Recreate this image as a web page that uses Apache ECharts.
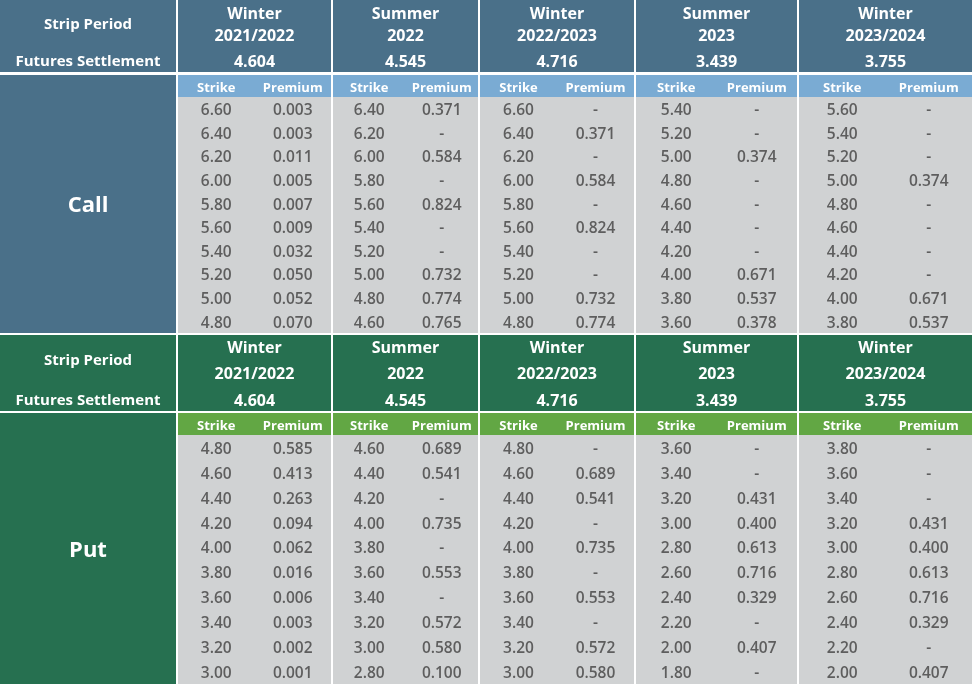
<!DOCTYPE html>
<html>
<head>
<meta charset="utf-8">
<script src="https://cdn.jsdelivr.net/npm/echarts@6/dist/echarts.min.js"></script>
<style>
  html, body { margin: 0; padding: 0; background: #fff; }
  #chart { width: 975px; height: 686px; }
</style>
</head>
<body>
<div id="chart"></div>
<script>
// ---- data ----
var seasons = ['Winter', 'Summer', 'Winter', 'Summer', 'Winter']
var years = ['2021/2022', '2022', '2022/2023', '2023', '2023/2024']
var settlements = ['4.604', '4.545', '4.716', '3.439', '3.755']

var callStrikes = [
    ['6.60', '6.40', '6.20', '6.00', '5.80', '5.60', '5.40', '5.20', '5.00', '4.80'],
    ['6.40', '6.20', '6.00', '5.80', '5.60', '5.40', '5.20', '5.00', '4.80', '4.60'],
    ['6.60', '6.40', '6.20', '6.00', '5.80', '5.60', '5.40', '5.20', '5.00', '4.80'],
    ['5.40', '5.20', '5.00', '4.80', '4.60', '4.40', '4.20', '4.00', '3.80', '3.60'],
    ['5.60', '5.40', '5.20', '5.00', '4.80', '4.60', '4.40', '4.20', '4.00', '3.80']
]
var callPremiums = [
    ['0.003', '0.003', '0.011', '0.005', '0.007', '0.009', '0.032', '0.050', '0.052', '0.070'],
    ['0.371', '-', '0.584', '-', '0.824', '-', '-', '0.732', '0.774', '0.765'],
    ['-', '0.371', '-', '0.584', '-', '0.824', '-', '-', '0.732', '0.774'],
    ['-', '-', '0.374', '-', '-', '-', '-', '0.671', '0.537', '0.378'],
    ['-', '-', '-', '0.374', '-', '-', '-', '-', '0.671', '0.537']
]
var putStrikes = [
    ['4.80', '4.60', '4.40', '4.20', '4.00', '3.80', '3.60', '3.40', '3.20', '3.00'],
    ['4.60', '4.40', '4.20', '4.00', '3.80', '3.60', '3.40', '3.20', '3.00', '2.80'],
    ['4.80', '4.60', '4.40', '4.20', '4.00', '3.80', '3.60', '3.40', '3.20', '3.00'],
    ['3.60', '3.40', '3.20', '3.00', '2.80', '2.60', '2.40', '2.20', '2.00', '1.80'],
    ['3.80', '3.60', '3.40', '3.20', '3.00', '2.80', '2.60', '2.40', '2.20', '2.00']
]
var putPremiums = [
    ['0.585', '0.413', '0.263', '0.094', '0.062', '0.016', '0.006', '0.003', '0.002', '0.001'],
    ['0.689', '0.541', '-', '0.735', '-', '0.553', '-', '0.572', '0.580', '0.100'],
    ['-', '0.689', '0.541', '-', '0.735', '-', '0.553', '-', '0.572', '0.580'],
    ['-', '-', '0.431', '0.400', '0.613', '0.716', '0.329', '-', '0.407', '-'],
    ['-', '-', '-', '0.431', '0.400', '0.613', '0.716', '0.329', '-', '0.407']
]

// ---- layout ----
var W = 975, H = 686
var labelRight = 176
var colLeft = [178, 333, 480, 636, 799]
var colRight = [331, 478, 634, 797, 972]
var FONT = '"Open Sans", Lato, sans-serif'
var dataColor = '#5e5e5e'
var grey = '#d0d2d3'
var dy = 2 // text baseline nudge

var sections = [
    { name: 'Call', strikes: callStrikes, premiums: callPremiums, dark: '#4a7089', light: '#7aabd3',
      top: 0, headBottom: 72, subTop: 75, subBottom: 97, bottom: 333,
      seasonY: 12, yearY: 34, valueY: 60, stripY: 23 },
    { name: 'Put', strikes: putStrikes, premiums: putPremiums, dark: '#267050', light: '#62a744',
      top: 335, headBottom: 411, subTop: 413, subBottom: 435, bottom: 684,
      seasonY: 346, yearY: 372, valueY: 399, stripY: 359 }
]

function txt(t, x, y, size, weight, color) {
    return { t: t, x: x, y: y + dy, size: size, weight: weight, color: color || '#fff' }
}

var cells = []
sections.forEach(function (s) {
    // header left
    cells.push({ x0: 0, y0: s.top, x1: labelRight, y1: s.headBottom, fill: s.dark, texts: [
        txt('Strip Period', labelRight / 2, s.stripY, 15, 'bold'),
        txt('Futures Settlement', labelRight / 2, s.valueY, 15, 'bold')
    ] })
    // big label
    cells.push({ x0: 0, y0: s.subTop, x1: labelRight, y1: s.bottom, fill: s.dark, texts: [
        txt(s.name, labelRight / 2, (s.subTop + s.bottom) / 2, 22, 'bold')
    ] })
    var rowH = (s.bottom - s.subBottom) / 10
    for (var c = 0; c < 5; c++) {
        var x0 = colLeft[c], x1 = colRight[c], cx = (x0 + x1) / 2, w = x1 - x0
        var xs = x0 + w * 0.25, xp = x0 + w * 0.75
        cells.push({ x0: x0, y0: s.top, x1: x1, y1: s.headBottom, fill: s.dark, texts: [
            txt(seasons[c], cx, s.seasonY, 16, 'bold'),
            txt(years[c], cx, s.yearY, 16, 'bold'),
            txt(settlements[c], cx, s.valueY, 16, 'bold')
        ] })
        cells.push({ x0: x0, y0: s.subTop, x1: x1, y1: s.subBottom, fill: s.light, texts: [
            txt('Strike', xs, (s.subTop + s.subBottom) / 2, 13, 'bold'),
            txt('Premium', xp, (s.subTop + s.subBottom) / 2, 13, 'bold')
        ] })
        var rows = []
        for (var r = 0; r < 10; r++) {
            var ry = s.subBottom + rowH * (r + 0.5)
            rows.push(txt(s.strikes[c][r], xs, ry, 15.5, 600, dataColor))
            rows.push(txt(s.premiums[c][r], xp, ry, 15.5, 600, dataColor))
        }
        cells.push({ x0: x0, y0: s.subBottom, x1: x1, y1: s.bottom, fill: grey, texts: rows })
    }
})

var chart = echarts.init(document.getElementById('chart'), null, { renderer: 'canvas' })

chart.setOption({
    animation: false,
    backgroundColor: '#fff',
    grid: { left: 0, right: 0, top: 0, bottom: 0 },
    xAxis: { type: 'value', min: 0, max: W, show: false },
    yAxis: { type: 'value', min: 0, max: H, inverse: true, show: false },
    series: [{
        type: 'custom',
        clip: false,
        data: cells.map(function (c) { return [c.x0, c.y0, c.x1, c.y1] }),
        encode: { x: [0, 2], y: [1, 3] },
        renderItem: function (params, api) {
            var cell = cells[params.dataIndex]
            var p0 = api.coord([api.value(0), api.value(1)])
            var p1 = api.coord([api.value(2), api.value(3)])
            var children = [{
                type: 'rect',
                shape: { x: p0[0], y: p0[1], width: p1[0] - p0[0], height: p1[1] - p0[1] },
                style: { fill: cell.fill }
            }]
            cell.texts.forEach(function (t) {
                var p = api.coord([t.x, t.y])
                children.push({
                    type: 'text',
                    x: p[0], y: p[1],
                    style: {
                        text: t.t, align: 'center', verticalAlign: 'middle',
                        fill: t.color, fontSize: t.size, fontWeight: t.weight, fontFamily: FONT
                    }
                })
            })
            return { type: 'group', children: children }
        }
    }]
})
</script>
</body>
</html>
